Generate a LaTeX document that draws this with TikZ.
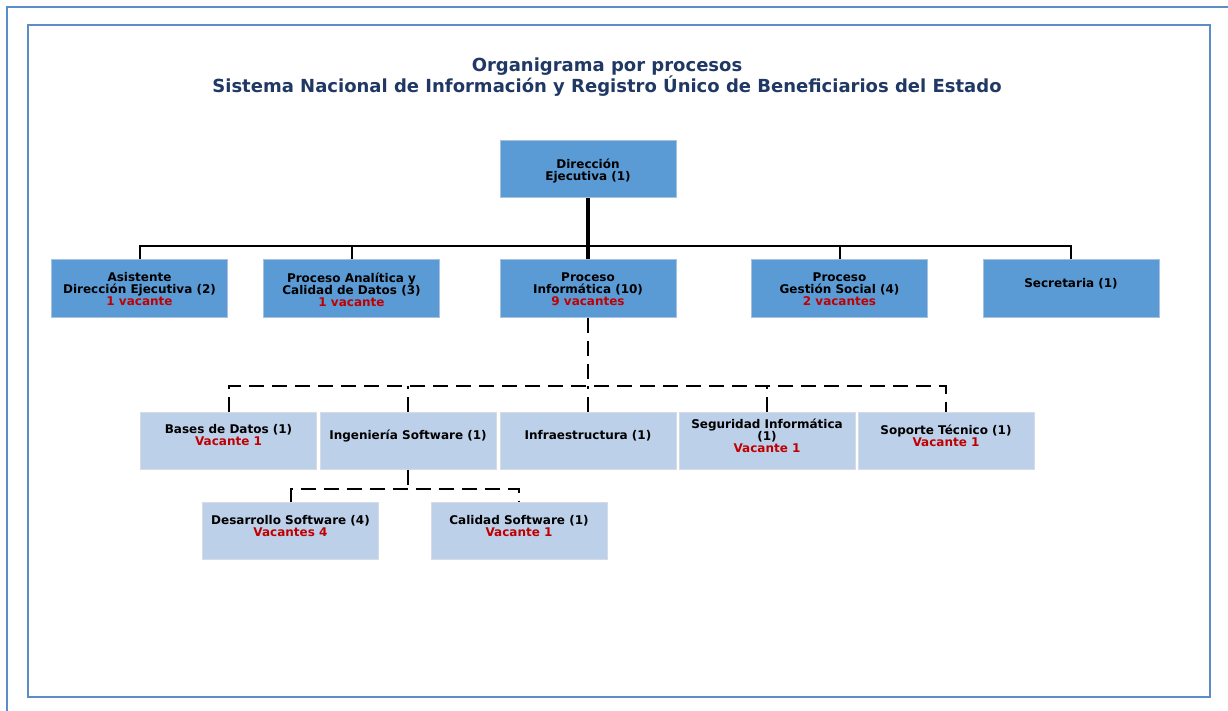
\documentclass[tikz,border=0pt]{standalone}
\usepackage{fontspec}
\setmainfont{DejaVu Sans}
\usepackage{tikz}
\usetikzlibrary{positioning,calc}
\definecolor{frameblue}{HTML}{5B8DC8}
\definecolor{titlenavy}{HTML}{1F3864}
\definecolor{boxdark}{HTML}{5B9BD5}
\definecolor{boxlight}{HTML}{BDD0E9}
\definecolor{darkedge}{HTML}{A9C1DE}
\definecolor{lightedge}{HTML}{D6DCE4}
\definecolor{vacred}{HTML}{C00000}
\newcommand{\vac}[1]{\textcolor{vacred}{#1}}
\newcommand{\caja}[2][0pt]{\raisebox{#1}[\height][\depth]{\parbox{172pt}{\centering\lineskiplimit=-20pt #2}}}
\tikzset{
  jefe/.style={draw=darkedge, fill=boxdark, line width=1pt, minimum width=176pt, minimum height=57pt,
    inner sep=0pt, font=\bfseries\fontsize{12}{12}\selectfont},
  area/.style={jefe, fill=boxlight, draw=lightedge},
  mando/.style={line width=2pt},
  enlace/.style={line width=2pt, dash pattern=on 15pt off 8pt}
}

\begin{document}
\begin{tikzpicture}[x=1pt,y=-1pt]
        \useasboundingbox (0,0) rectangle (1228,711);
        \draw[frameblue, line width=1.5pt] (7,711) -- (7,7) -- (1228,7);
        \draw[frameblue, line width=1.5pt] (28,25) rectangle (1210,697);
        \node[align=center, text=titlenavy, font=\bfseries\fontsize{18}{18}\selectfont] (titulo) at (607,77)
            {Organigrama por procesos\\Sistema Nacional de Información y Registro Único de Beneficiarios del Estado};

        \node[jefe] (dir) at (588,169.5) {\caja[-1pt]{Dirección\\Ejecutiva (1)}};
        \node[jefe] (asis) at (139.5,288.5) {\caja[-1pt]{Asistente\\Dirección Ejecutiva (2)\\\vac{1 vacante}}};
        \node[jefe] (anal) at (351.5,288.5) {\caja[-1pt]{Proceso Analítica y\\Calidad de Datos (3)\\\vac{1 vacante}}};
        \node[jefe] (info) at (588,288.5) {\caja[-1pt]{Proceso\\Informática (10)\\\vac{9 vacantes}}};
        \node[jefe] (gest) at (839.5,288.5) {\caja[-1pt]{Proceso\\Gestión Social (4)\\\vac{2 vacantes}}};
        \node[jefe] (secr) at (1071,288.5) {\caja[5pt]{Secretaria (1)}};

        \node[area] (bases) at (228.5,440.5) {\caja[5pt]{Bases de Datos (1)\\\vac{Vacante 1}}};
        \node[area] (ing) at (408,440.5) {\caja[5pt]{Ingeniería Software (1)}};
        \node[area] (infra) at (588,440.5) {\caja[5pt]{Infraestructura (1)}};
        \node[area] (segu) at (767,440.5) {\caja[5pt]{Seguridad Informática\\(1)\\\vac{Vacante 1}}};
        \node[area] (sopo) at (946,440.5) {\caja[5pt]{Soporte Técnico (1)\\\vac{Vacante 1}}};

        \node[area] (desa) at (290.5,531) {\caja[5pt]{Desarrollo Software (4)\\\vac{Vacantes 4}}};
        \node[area] (cali) at (519,531) {\caja[5pt]{Calidad Software (1)\\\vac{Vacante 1}}};

        \coordinate (bus) at (588,246);
        \coordinate (businfo) at (588,386);
        \coordinate (busing) at (408,489);

        \draw[mando] (asis.north) -- (asis.north |- bus) -- (secr.north |- bus) -- (secr.north);
        \foreach \n in {anal,gest}
            \draw[mando] (\n.north) -- (\n.north |- bus);
        \draw[line width=3.5pt] (dir.south) -- (info.north);

        \draw[enlace] (info.south) -- (businfo);
        \draw[enlace] (bases.north) -- (bases.north |- businfo) -- (sopo.north |- businfo) -- (sopo.north);
        \foreach \n in {ing,infra,segu}
            \draw[enlace] (\n.north) -- (\n.north |- businfo);

        \draw[enlace] (ing.south) -- (busing);
        \draw[enlace] (desa.north) -- (desa.north |- busing) -- (cali.north |- busing) -- (cali.north);
\end{tikzpicture}
\end{document}
